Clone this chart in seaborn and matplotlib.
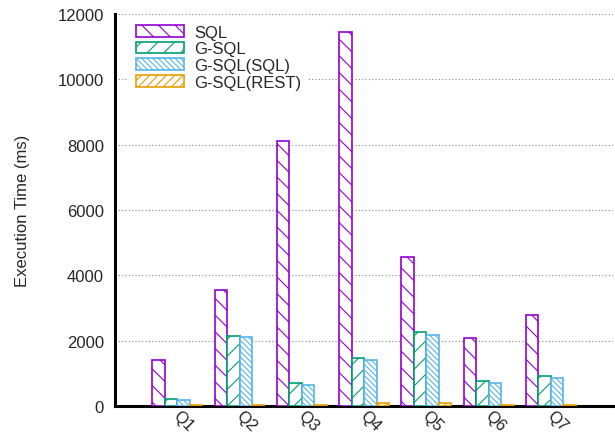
import matplotlib
matplotlib.use("Agg")
import matplotlib.pyplot as plt
import matplotlib.transforms as mtransforms
import seaborn as sns
import pandas as pd
from matplotlib.patches import Patch

queries = ["Q1", "Q2", "Q3", "Q4", "Q5", "Q6", "Q7"]
series = ["SQL", "G-SQL", "G-SQL(SQL)", "G-SQL(REST)"]
sql = [1400, 3550, 8110, 11450, 4560, 2090, 2785]
gsql = [220, 2140, 690, 1460, 2255, 755, 905]
gsql_sql = [185, 2100, 645, 1410, 2165, 715, 860]
gsql_rest = [40, 30, 30, 80, 100, 20, 40]
yticks = [0, 2000, 4000, 6000, 8000, 10000, 12000]

colors = ["#9400D3", "#009E73", "#56B4E9", "#E69F00"]
hatches = ["\\\\", "//", "\\\\\\\\\\\\", "////"]

df = pd.DataFrame({
    "query": queries * 4,
    "series": [s for s in series for _ in queries],
    "time": sql + gsql + gsql_sql + gsql_rest,
})

sns.set_style("white")
plt.rcParams["font.family"] = ["Liberation Sans", "DejaVu Sans"]
plt.rcParams["hatch.linewidth"] = 0.8

fig = plt.figure(figsize=(6.15, 4.39), dpi=100)
ax = fig.add_axes([0.187, 0.073, 0.810, 0.893])

sns.barplot(data=df, x="query", y="time", hue="series", hue_order=series,
            palette=colors, width=0.8, ax=ax, legend=False, zorder=3)

for container, color, hatch in zip(ax.containers, colors, hatches):
    for bar in container:
        bar.set_facecolor("white")
        bar.set_edgecolor(color)
        bar.set_hatch(hatch)
        bar.set_linewidth(1.2)

ax.set_xlim(-1, 7)
ax.set_ylim(0, 12000)
ax.set_yticks(yticks)
ax.set_yticklabels([str(v) for v in yticks], fontsize=12)
ax.set_xticks(range(len(queries)))
ax.set_xticklabels(queries, fontsize=12, rotation=-45, ha="left", va="top",
                   rotation_mode="anchor")
ax.tick_params(axis="y", length=0, pad=8)
ax.tick_params(axis="x", length=0, pad=1)
shift = mtransforms.ScaledTranslation(4 / 100, 0, fig.dpi_scale_trans)
for lbl in ax.get_xticklabels():
    lbl.set_transform(lbl.get_transform() + shift)
ax.set_xlabel("")
ax.set_ylabel("Execution Time (ms)", fontsize=12, labelpad=20)

ax.yaxis.grid(True, linestyle=(0, (1, 2)), color="#888888", linewidth=0.8, zorder=0)
ax.xaxis.grid(False)
ax.set_axisbelow(True)

for side in ["top", "right"]:
    ax.spines[side].set_visible(False)
for side in ["left", "bottom"]:
    ax.spines[side].set_color("black")
    ax.spines[side].set_linewidth(2.2)

handles = [Patch(facecolor="white", edgecolor=c, hatch=h, linewidth=1.2)
           for c, h in zip(colors, hatches)]
leg = ax.legend(handles, series, loc="upper left", bbox_to_anchor=(0.02, 1.0),
                frameon=True, fontsize=12, handlelength=2.9, handleheight=0.7,
                handletextpad=0.6, labelspacing=0.1, borderaxespad=0.25)
leg.get_frame().set_edgecolor("none")
leg.get_frame().set_facecolor("white")
leg.get_frame().set_alpha(1.0)

fig.savefig("out.png", dpi=100)
